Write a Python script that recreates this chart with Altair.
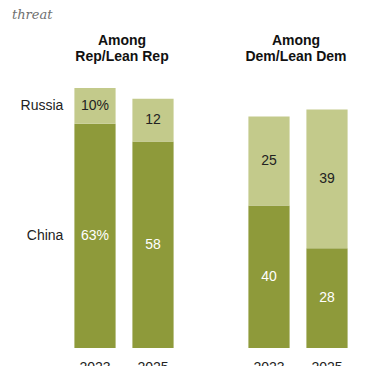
import altair as alt
import pandas as pd

# ---- data ----
groups = ["R2023", "R2025", "gap", "D2023", "D2025"]
bar_groups = ["R2023", "R2025", "D2023", "D2025"]
china = [63, 58, 40, 28]
russia = [10, 12, 25, 39]
china_labels = ["63%", "58", "40", "28"]
russia_labels = ["10%", "12", "25", "39"]
header_groups = ["R2023", "D2023"]
header_line1 = ["Among", "Among"]
header_line2 = ["Rep/Lean Rep", "Dem/Lean Dem"]
title_lines = ["threat"]

rows = []
for g, c, r, cl, rl in zip(bar_groups, china, russia, china_labels, russia_labels):
    rows.append({"grp": g, "country": "China", "value": c, "label": cl, "ord": 0})
    rows.append({"grp": g, "country": "Russia", "value": r, "label": rl, "ord": 1})
df = pd.DataFrame(rows)
hdr = pd.DataFrame({"grp": header_groups, "l1": header_line1, "l2": header_line2})
ttl = pd.DataFrame({"t": title_lines})

DARK = "#8E9A3A"
LIGHT = "#C3CA8B"
FONT = "Liberation Sans"

xscale = alt.Scale(domain=groups, paddingInner=0.29, paddingOuter=0.145)
xaxis = alt.Axis(
    title=None, domain=False, ticks=False, grid=False, labelAngle=0,
    labelPadding=12, labelFontSize=14, labelColor="#222222", labelFont=FONT,
    labelExpr="datum.value == 'gap' ? '' : slice(datum.value, 1)",
    values=groups,
)
yscale = alt.Scale(domain=[0, 75], nice=False)


def xe(**kw):
    return alt.X("grp:N", scale=xscale, axis=xaxis, **kw)


base = alt.Chart(df)

bars = base.mark_bar().encode(
    x=xe(),
    y=alt.Y("value:Q", stack="zero", scale=yscale, axis=None),
    color=alt.Color("country:N", scale=alt.Scale(domain=["China", "Russia"], range=[DARK, LIGHT]), legend=None),
    order=alt.Order("ord:Q"),
)

stacked = base.transform_stack(
    stack="value", groupby=["grp"], sort=[alt.SortField("ord")], as_=["y0", "y1"]
).transform_calculate(mid="(datum.y0 + datum.y1) / 2")

vals = stacked.mark_text(font=FONT, fontSize=14, baseline="middle").encode(
    x=xe(),
    y=alt.Y("mid:Q", scale=yscale, axis=None),
    text="label:N",
    color=alt.condition("datum.country == 'China'", alt.value("#FFFFFF"), alt.value("#222222")),
)

rowlab = stacked.transform_filter("datum.grp == 'R2023'").mark_text(
    font=FONT, fontSize=14, align="right", baseline="middle", dx=-11, color="#222222"
).encode(
    x=xe(bandPosition=0),
    y=alt.Y("mid:Q", scale=yscale, axis=None),
    text="country:N",
)

h1 = alt.Chart(hdr).mark_text(font=FONT, fontSize=14, fontWeight="bold", dx=27, color="#111111").encode(
    x=xe(), y=alt.value(-40), text="l1:N"
)
h2 = alt.Chart(hdr).mark_text(font=FONT, fontSize=14, fontWeight="bold", dx=27, color="#111111").encode(
    x=xe(), y=alt.value(-24), text="l2:N"
)
tt = alt.Chart(ttl).mark_text(
    font="DejaVu Serif", fontStyle="italic", fontSize=13, align="left", baseline="alphabetic", color="#707070"
).encode(x=alt.value(-54), y=alt.value(-62), text="t:N")

chart = (
    alt.layer(bars, vals, rowlab, h1, h2, tt)
    .properties(
        width=290, height=267,
        background="white",
        autosize=alt.AutoSizeParams(type="none"),
        padding={"left": 58, "top": 73, "right": 10, "bottom": 24},
    )
    .configure_view(strokeWidth=0, stroke="transparent")
)

chart.save("out.html", embed_options={"renderer": "svg", "actions": False})
